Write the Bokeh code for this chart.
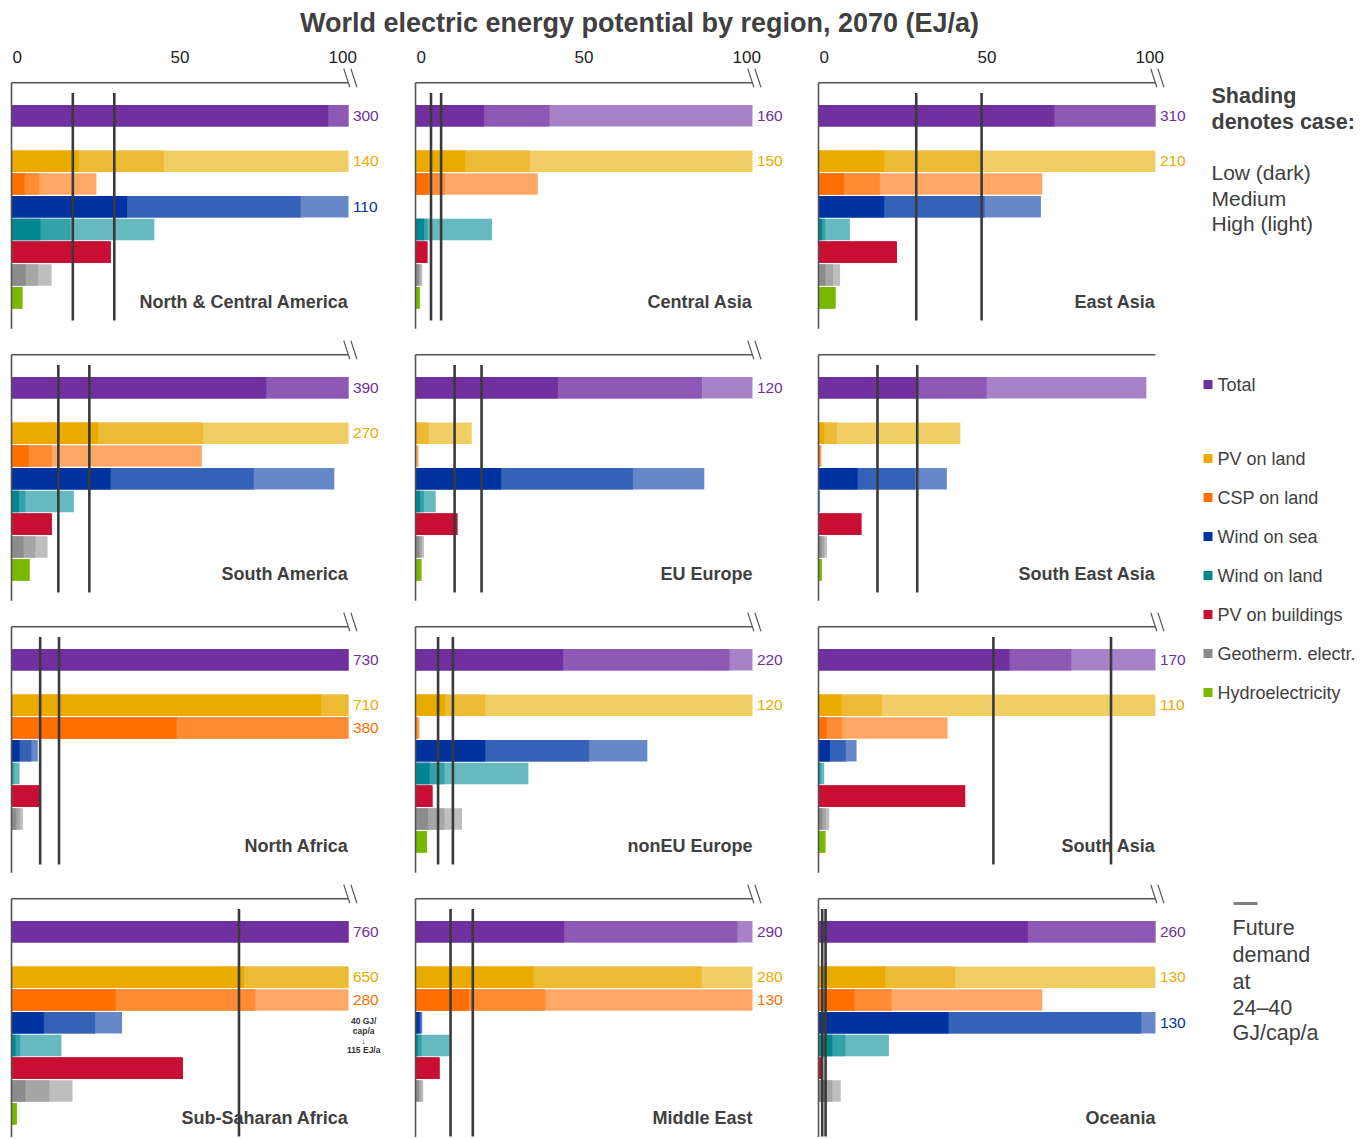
from bokeh.plotting import figure
from bokeh.layouts import row, column
from bokeh.models import ColumnDataSource, Range1d, FixedTicker
from bokeh.core.properties import value
from bokeh.embed import file_html
from bokeh.resources import INLINE

# ---------------- data (EJ/a, year 2070) ----------------
REGIONS = ["North & Central America", "Central Asia", "East Asia",
           "South America", "EU Europe", "South East Asia",
           "North Africa", "nonEU Europe", "South Asia",
           "Sub-Saharan Africa", "Middle East", "Oceania"]

CATEGORIES = ["Total", "PV on land", "CSP on land", "Wind on sea", "Wind on land",
              "PV on buildings", "Geotherm. electr.", "Hydroelectricity"]

TOTAL_LOW = [94, 20.3, 70.0, 75.6, 42.3, 29.3, 150, 43.8, 56.7, 180, 44.1, 62.1]
TOTAL_MED = [190, 39.8, 180, 240, 85.0, 49.9, 400, 93.2, 75.0, 450, 95.5, 170]
TOTAL_HIGH = [300, 160, 310, 390, 120, 97.3, 730, 220, 170, 760, 290, 260]

PVL_LOW = [20.0, 14.8, 19.5, 25.7, 0.5, 1.7, 91.9, 8.8, 6.8, 69.0, 35.0, 19.8]
PVL_MED = [45.2, 33.9, 48.0, 56.9, 3.9, 5.4, 300, 20.7, 18.8, 300, 84.9, 40.6]
PVL_HIGH = [140, 150, 210, 270, 16.7, 42.1, 710, 120, 110, 650, 280, 130]

CSP_LOW = [3.9, 3.9, 7.5, 5.1, 0.0, 0.2, 49.0, 0.3, 2.4, 30.9, 15.8, 10.6]
CSP_MED = [8.3, 8.7, 18.2, 11.9, 0.2, 0.5, 200, 0.7, 7.1, 72.4, 38.6, 21.7]
CSP_HIGH = [25.2, 36.3, 66.4, 56.5, 0.9, 0.9, 380, 1.2, 38.3, 280, 130, 66.4]

WSEA_LOW = [34.3, 0, 19.5, 29.4, 25.4, 11.6, 2.4, 20.7, 3.4, 9.6, 1.2, 38.6]
WSEA_MED = [85.8, 0, 49.3, 71.9, 64.5, 28.7, 5.9, 51.5, 8.1, 24.8, 1.7, 95.8]
WSEA_HIGH = [110, 0, 66.0, 95.8, 85.7, 38.1, 7.8, 68.8, 11.3, 32.8, 2.0, 130]

WLAND_LOW = [8.6, 2.5, 1.1, 2.2, 1.4, 0.1, 0.3, 4.2, 0.3, 1.2, 0.7, 4.1]
WLAND_MED = [17.5, 3.5, 2.0, 4.1, 2.5, 0.3, 0.8, 8.6, 0.8, 2.6, 1.8, 8.0]
WLAND_HIGH = [42.4, 22.7, 9.3, 18.5, 6.0, 0.5, 2.4, 33.5, 1.7, 14.8, 10.1, 20.9]

PVB = [29.4, 3.5, 23.2, 11.9, 12.4, 12.7, 8.3, 5.0, 43.5, 50.8, 7.1, 0.9]

GEO_LOW = [4.2, 1.0, 2.0, 3.6, 1.2, 0.9, 1.4, 3.7, 1.2, 4.1, 1.0, 2.5]
GEO_MED = [7.9, 1.5, 4.3, 7.1, 1.9, 1.7, 2.4, 8.6, 2.2, 11.2, 1.7, 4.1]
GEO_HIGH = [11.9, 2.0, 6.4, 10.7, 2.5, 2.5, 3.4, 13.8, 3.2, 18.1, 2.3, 6.6]

HYDRO = [3.2, 1.2, 5.0, 5.3, 1.7, 0.9, 0.1, 3.4, 2.0, 1.5, 0.0, 0.0]

DEMAND_24 = [18.2, 4.6, 29.0, 13.9, 11.6, 17.5, 8.5, 6.7, 51.9, 67.5, 10.4, 1.1]
DEMAND_40 = [30.5, 7.6, 48.4, 23.1, 19.6, 29.3, 14.1, 11.1, 86.8, 115, 17.0, 2.1]

AXIS_TICKS = [0, 50, 100]
TITLE = "World electric energy potential by region, 2070 (EJ/a)"

# ---------------- styles ----------------
SERIES = [
    (TOTAL_LOW, TOTAL_MED, TOTAL_HIGH),
    (PVL_LOW, PVL_MED, PVL_HIGH),
    (CSP_LOW, CSP_MED, CSP_HIGH),
    (WSEA_LOW, WSEA_MED, WSEA_HIGH),
    (WLAND_LOW, WLAND_MED, WLAND_HIGH),
    (PVB, PVB, PVB),
    (GEO_LOW, GEO_MED, GEO_HIGH),
    (HYDRO, HYDRO, HYDRO),
]
SHADES = [  # dark (low), medium, light (high)
    ("#7030A0", "#8D59B4", "#A882C8"),
    ("#E9AB00", "#EDBB33", "#F1CD66"),
    ("#FF6F00", "#FF8C33", "#FFA866"),
    ("#0033A0", "#3362B6", "#6688C8"),
    ("#00868F", "#33A1A8", "#66B9BF"),
    ("#C80E32", "#C80E32", "#C80E32"),
    ("#8C8C8C", "#A6A6A6", "#BEBEBE"),
    ("#78B800", "#78B800", "#78B800"),
]
CAT_ROWS = [0, 2, 3, 4, 5, 6, 7, 8]

FONT = value("Liberation Sans")
TXT = "#404040"
AXIS_MAX = 100
PX_PER_UNIT = 3.37
ROW_PX = 22.75
Y_FRAME_TOP = -2.12
LINE_Y = -1.45
COL_W = [412, 403, 380]
ZERO_PX = [11, 3, 3]
ROW_H = [272, 272, 272, 254]
TOP_BORDER = 24
HEADER_H = 43
LEGEND_W = 175
TOTAL_W = sum(COL_W) + LEGEND_W
# labels of the first and last tick sit slightly inside the axis ends
TICK_LABEL_INSET = 1.7


def panel(i):
    r, c = divmod(i, 3)
    w, fh = COL_W[c], ROW_H[r]
    top = r == 0
    x0 = -ZERO_PX[c] / PX_PER_UNIT
    p = figure(width=w, height=fh + (TOP_BORDER if top else 0),
               x_range=Range1d(x0, x0 + w / PX_PER_UNIT),
               y_range=Range1d(Y_FRAME_TOP + fh / ROW_PX, Y_FRAME_TOP),
               x_axis_location="above" if top else None, y_axis_location=None,
               output_backend="svg", toolbar_location=None,
               min_border=0, min_border_top=TOP_BORDER if top else 0,
               outline_line_color=None)
    p.grid.visible = False
    if top:
        ax = p.xaxis[0]
        lo, mid, hi = AXIS_TICKS
        pos = [lo + TICK_LABEL_INSET, mid, hi - TICK_LABEL_INSET]
        ax.ticker = FixedTicker(ticks=pos)
        ax.major_label_overrides = {pos[0]: str(lo), pos[1]: str(mid), pos[2]: str(hi)}
        ax.axis_line_color = None
        ax.major_tick_line_color = None
        ax.minor_tick_line_color = None
        ax.major_tick_out = 0
        ax.major_label_text_font = "Liberation Sans"
        ax.major_label_text_font_size = "17px"
        ax.major_label_text_color = "#222222"
        ax.major_label_standoff = 5

    ys, rights, colors = [], [], []
    for k in (2, 1, 0):
        for cat, rowpos in enumerate(CAT_ROWS):
            v = SERIES[cat][k][i]
            ys.append(rowpos)
            rights.append(min(v, AXIS_MAX))
            colors.append(SHADES[cat][k])
    src = ColumnDataSource(dict(y=ys, right=rights, color=colors))
    p.hbar(y="y", left=0, right="right", height=0.95, fill_color="color",
           line_color=None, source=src)

    lx, ly, lt, lc = [], [], [], []
    for cat, rowpos in enumerate(CAT_ROWS):
        hv = SERIES[cat][2][i]
        if hv > AXIS_MAX:
            lx.append(AXIS_MAX + 1.3)
            ly.append(rowpos)
            lt.append(f"{hv:.0f}")
            lc.append(SHADES[cat][0])
    brk = len(lt) > 0
    if lt:
        p.text(x=lx, y=ly, text=lt, text_color=lc, text_font=FONT,
               text_font_size="15.5px", text_align="left", text_baseline="middle")

    # axis frame lines
    p.segment(x0=[0], y0=[LINE_Y], x1=[99.9 if brk else AXIS_MAX], y1=[LINE_Y],
              line_color="#555555", line_width=1.6)
    p.segment(x0=[0], y0=[LINE_Y], x1=[0], y1=[9.36 if r < 3 else 14],
              line_color="#555555", line_width=1.6)
    if brk:
        p.segment(x0=[98.6, 100.7], y0=[LINE_Y - 0.62] * 2,
                  x1=[100.4, 102.5], y1=[LINE_Y + 0.2] * 2,
                  line_color="#555555", line_width=1.2)

    p.text(x=[AXIS_MAX], y=[8.18], text=[REGIONS[i]], text_color=TXT, text_font=FONT,
           text_font_size="18px", text_font_style="bold", text_align="right",
           text_baseline="middle")

    dem = [d for d in (DEMAND_24[i], DEMAND_40[i]) if d <= AXIS_MAX]
    p.segment(x0=dem, y0=[-1.0] * len(dem), x1=dem, y1=[9.0] * len(dem),
              line_color="#3a3a3a", line_width=2.6)
    if DEMAND_40[i] > AXIS_MAX:
        p.text(x=[104.5] * 4, y=[3.91, 4.38, 4.79, 5.22],
               text=["40 GJ/", "cap/a", "\u2193", f"{DEMAND_40[i]:.0f} EJ/a"],
               text_color="#333333", text_font=FONT, text_font_size="8.5px",
               text_font_style="bold", text_align="center", text_baseline="middle")
    return p


def blank(w, h):
    f = figure(width=w, height=h, x_range=Range1d(0, w), y_range=Range1d(h, 0),
               x_axis_location=None, y_axis_location=None, output_backend="svg",
               toolbar_location=None, min_border=0, outline_line_color=None)
    f.grid.visible = False
    return f


header = blank(TOTAL_W, HEADER_H)
header.text(x=[639], y=[22], text=[TITLE], text_color=TXT, text_font=FONT,
            text_font_size="27px", text_font_style="bold", text_align="center",
            text_baseline="middle")

LH = sum(ROW_H) + TOP_BORDER
lg = blank(LEGEND_W, LH)
lg.text(x=[16, 16], y=[52, 78], text=["Shading", "denotes case:"], text_color=TXT,
        text_font=FONT, text_font_size="21.5px", text_font_style="bold",
        text_align="left", text_baseline="middle")
lg.text(x=[16, 16, 16], y=[129, 155, 180], text=["Low (dark)", "Medium", "High (light)"],
        text_color=TXT, text_font=FONT, text_font_size="21px",
        text_align="left", text_baseline="middle")
LEG_Y = [341, 415, 454, 493, 532, 571, 610, 649]
lg.rect(x=[12.5] * len(CATEGORIES), y=LEG_Y, width=9, height=9,
        fill_color=[s[0] for s in SHADES], line_color=None)
lg.text(x=[22] * len(CATEGORIES), y=LEG_Y, text=CATEGORIES, text_color=TXT, text_font=FONT,
        text_font_size="18px", text_align="left", text_baseline="middle")
lg.segment(x0=[38], y0=[860], x1=[62], y1=[860], line_color="#7f7f7f", line_width=3)
lg.text(x=[37] * 5, y=[884, 911, 938, 964, 989],
        text=["Future", "demand", "at", "24\u201340", "GJ/cap/a"], text_color=TXT,
        text_font=FONT, text_font_size="21.5px", text_align="left", text_baseline="middle")

panels = [panel(i) for i in range(12)]
grid = column([row(panels[3 * r:3 * r + 3]) for r in range(4)])
page = column(header, row(grid, lg))

open("out.html", "w").write(file_html(page, INLINE))
